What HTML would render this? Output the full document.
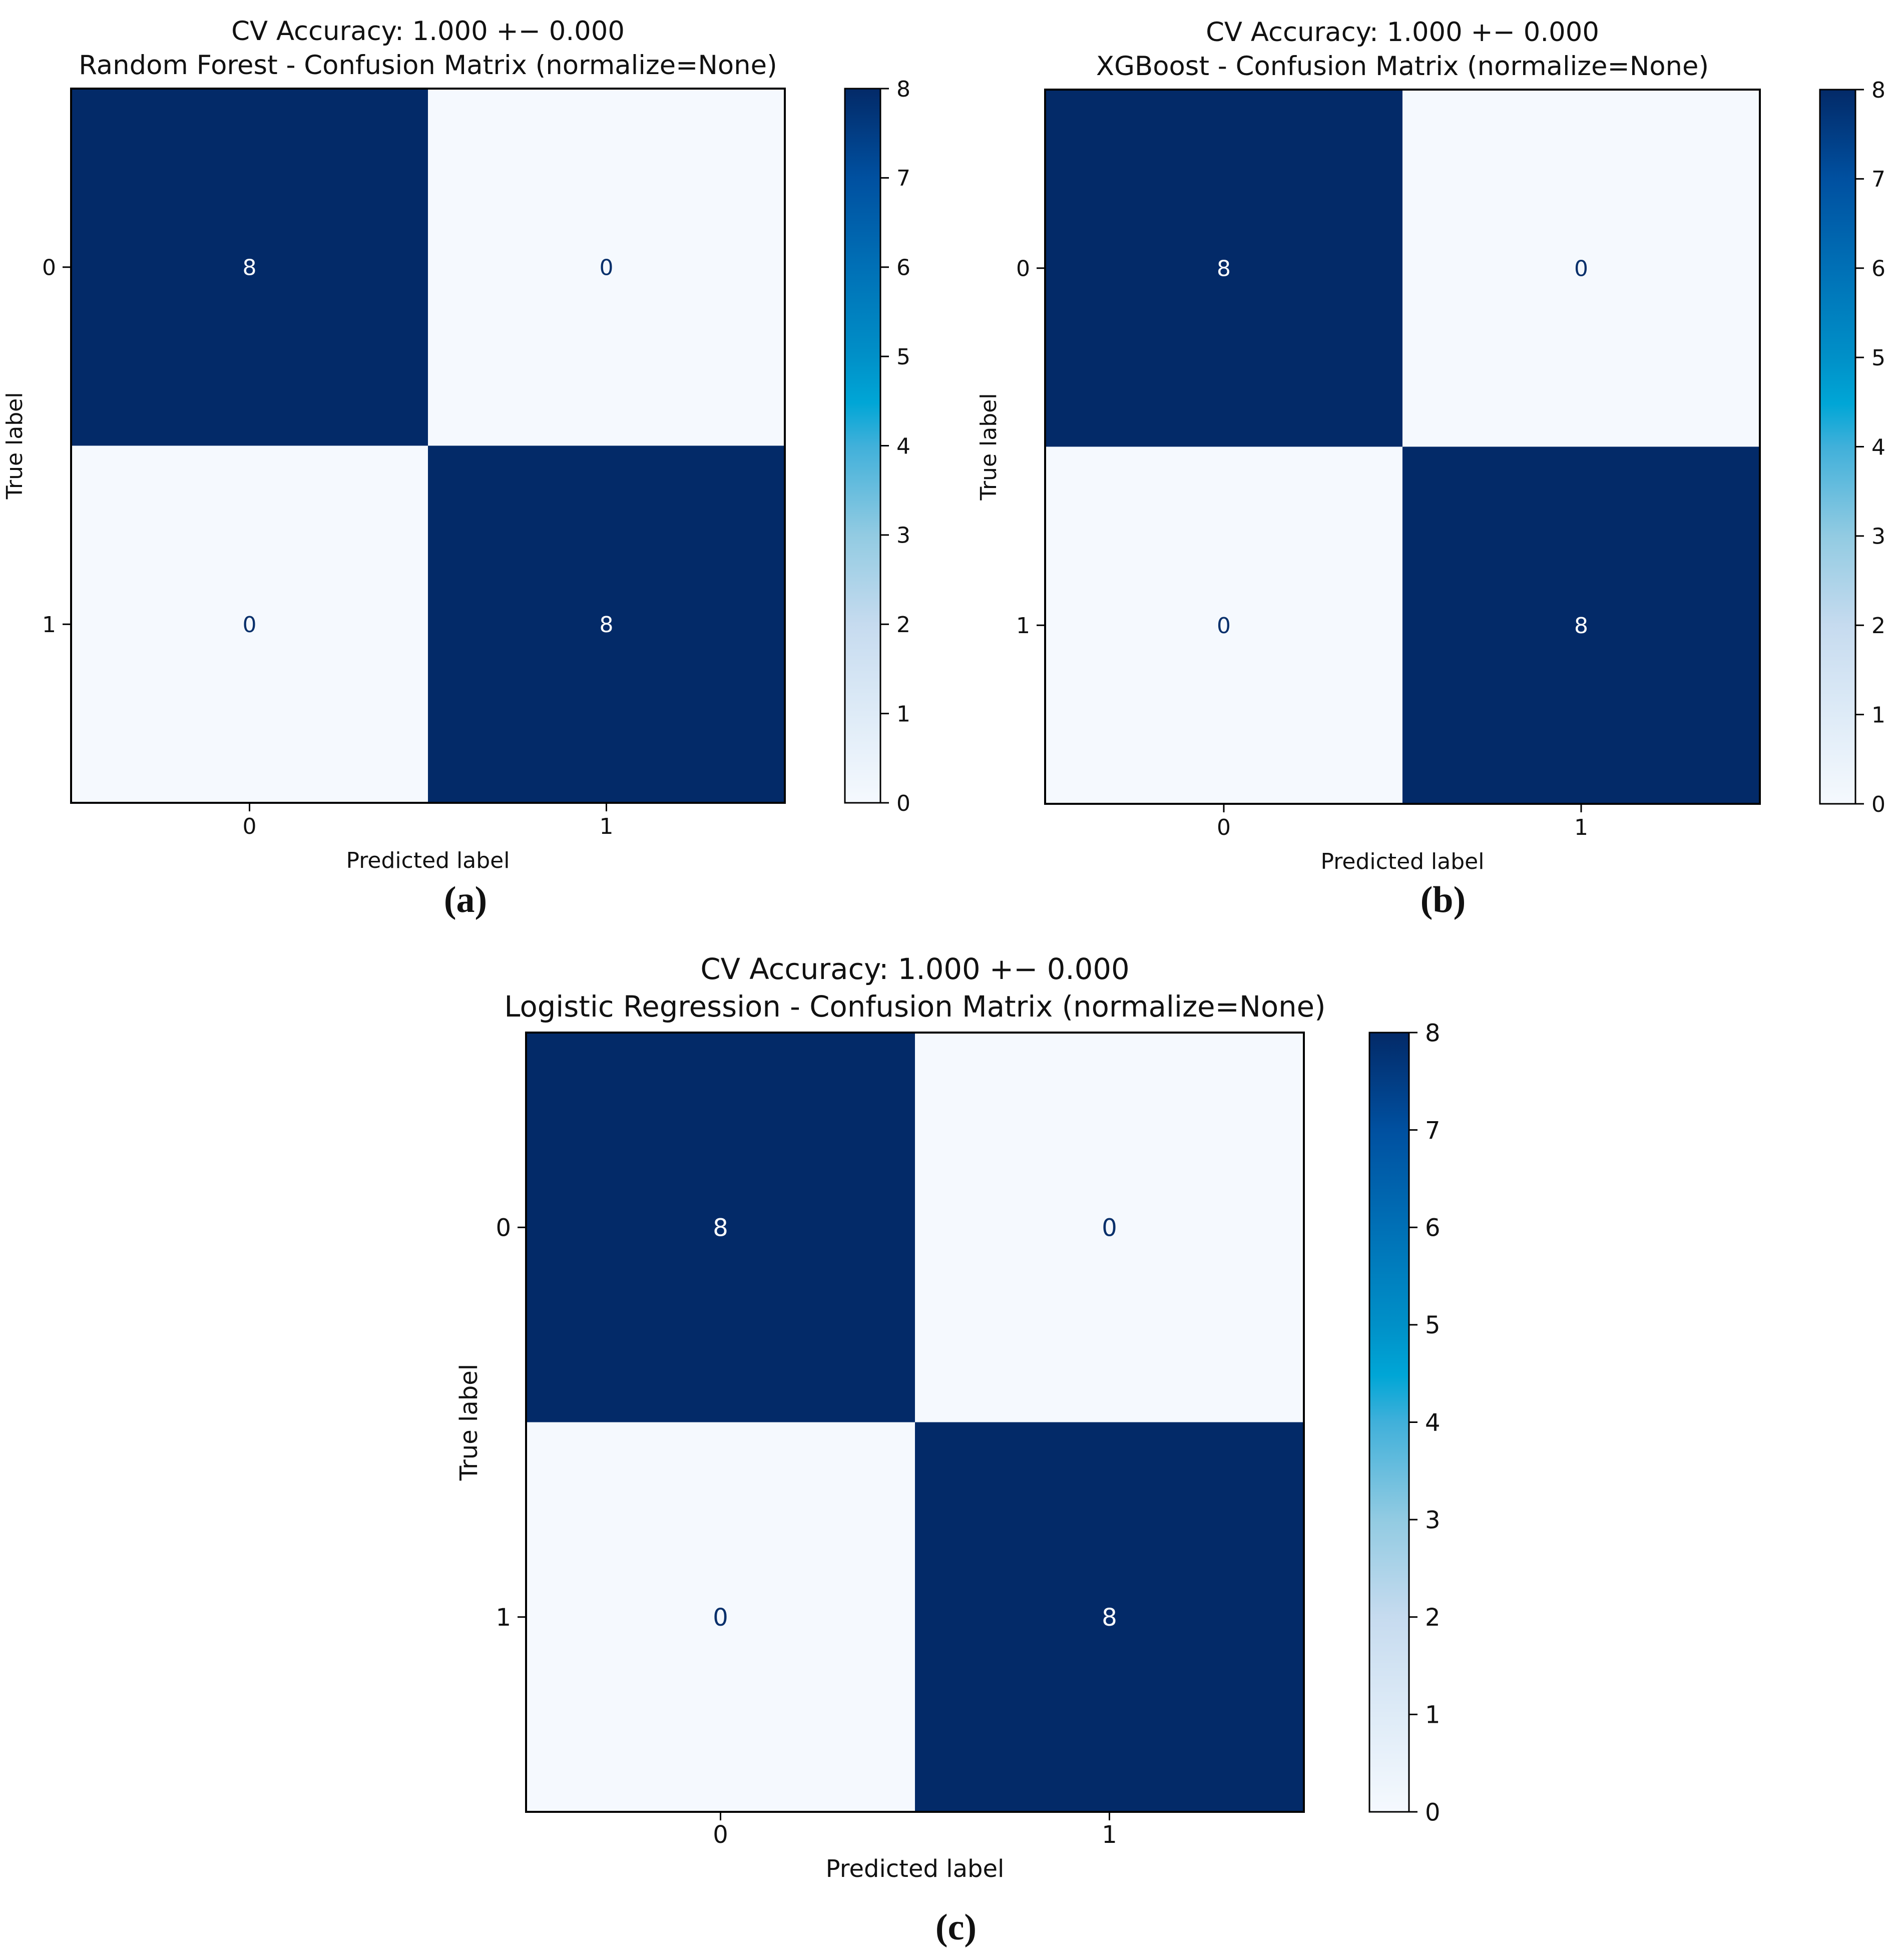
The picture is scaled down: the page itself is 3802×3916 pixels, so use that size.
<!DOCTYPE html>
<html><head><meta charset="utf-8"><style>
html,body{margin:0;padding:0;background:#fff;}
svg{display:block;}
text{font-family:"DejaVu Sans","Liberation Sans",sans-serif;}
.sub{font-family:"Liberation Serif",serif;}
</style></head><body>
<svg id="fig" width="3802" height="3916" viewBox="0 0 3802 3916" xmlns="http://www.w3.org/2000/svg">
<defs>
<linearGradient id="blues" x1="0" y1="1" x2="0" y2="0">
<stop offset="0" stop-color="#f5f9fe"/>
<stop offset="0.125" stop-color="#deebf7"/>
<stop offset="0.25" stop-color="#c6dbef"/>
<stop offset="0.375" stop-color="#92cbe2"/>
<stop offset="0.5" stop-color="#40b0da"/>
<stop offset="0.56" stop-color="#00a6d6"/>
<stop offset="0.625" stop-color="#0090c8"/>
<stop offset="0.75" stop-color="#0070b6"/>
<stop offset="0.875" stop-color="#0050a0"/>
<stop offset="1" stop-color="#032a68"/>
</linearGradient>
</defs>
</svg>
<script>
const categories = ['0','1'];
const rfMatrix = [[8,0],[0,8]];
const xgbMatrix = [[8,0],[0,8]];
const lrMatrix = [[8,0],[0,8]];
const cbarTicks = [0,1,2,3,4,5,6,7,8];
const titles1 = ['CV Accuracy: 1.000 +\u2212 0.000','CV Accuracy: 1.000 +\u2212 0.000','CV Accuracy: 1.000 +\u2212 0.000'];
const titles2 = ['Random Forest - Confusion Matrix (normalize=None)','XGBoost - Confusion Matrix (normalize=None)','Logistic Regression - Confusion Matrix (normalize=None)'];
const subLabels = ['(a)','(b)','(c)'];
const vmin = 0, vmax = 8;

const NS = 'http://www.w3.org/2000/svg';
const fig = document.getElementById('fig');
function mk(tag, attrs, parent){ const e=document.createElementNS(NS,tag); for(const k in attrs) e.setAttribute(k,attrs[k]); (parent||fig).appendChild(e); return e; }
function colorFor(v){ return v>=vmax/2 ? '#032a68' : '#f5f9fe'; }

const panels = [
 {m:rfMatrix, x0:142, y0:177, x1:1568, y1:1604, cb0:1688, cb1:1759, fs:44, t1y:80, t2y:148, sx:930, sy:1822},
 {m:xgbMatrix, x0:2088, y0:179, x1:3516, y1:1606, cb0:3636, cb1:3707, fs:44, t1y:82, t2y:150, sx:2883, sy:1822},
 {m:lrMatrix, x0:1051, y0:2063, x1:2605, y1:3620, cb0:2736, cb1:2815, fs:48, t1y:1956, t2y:2031, sx:1910, sy:3875}
];

panels.forEach((p,pi)=>{
  const g = mk('g',{fill:'#111'});
  
  
  const n = categories.length;
  const cw=(p.x1-p.x0)/n, ch=(p.y1-p.y0)/n;
  const xS = i => p.x0 + cw*(i+0.5);
  const yS = i => p.y0 + ch*(i+0.5);
  const cx = (p.x0+p.x1)/2;
  let t = mk('text',{x:cx,y:p.t1y,'text-anchor':'middle','font-size':p.fs*1.2},g); t.textContent=titles1[pi];
  
  
  t = mk('text',{x:cx,y:p.t2y,'text-anchor':'middle','font-size':p.fs*1.2},g); t.textContent=titles2[pi];
  
  
  for(let r=0;r<n;r++) for(let c=0;c<n;c++){
    const v=p.m[r][c];
    const rc = mk('rect',{x:p.x0+cw*c,y:p.y0+ch*r,width:cw,height:ch,fill:colorFor(v)},g);
    
    
    const tx = mk('text',{x:xS(c),y:yS(r)+p.fs*0.36,'text-anchor':'middle','font-size':p.fs,style:'fill:'+(v>=vmax/2?'#ffffff':'#08306b')},g);
    tx.textContent=String(v);
    
    
  }
  const fr = mk('rect',{x:p.x0,y:p.y0,width:p.x1-p.x0,height:p.y1-p.y0,fill:'none',stroke:'#000','stroke-width':4},g);
  
  
  categories.forEach((lab,i)=>{
    mk('line',{x1:xS(i),x2:xS(i),y1:p.y1,y2:p.y1+17,stroke:'#000','stroke-width':3},g);
    let tl = mk('text',{x:xS(i),y:p.y1+62,'text-anchor':'middle','font-size':p.fs},g); tl.textContent=lab;
    
    
    mk('line',{x1:p.x0-17,x2:p.x0,y1:yS(i),y2:yS(i),stroke:'#000','stroke-width':3},g);
    tl = mk('text',{x:p.x0-30,y:yS(i)+p.fs*0.36,'text-anchor':'end','font-size':p.fs},g); tl.textContent=lab;
    
    
  });
  let xl = mk('text',{x:cx,y:p.y1+130,'text-anchor':'middle','font-size':p.fs},g); xl.textContent='Predicted label';
  
  
  const ylx = p.x0-98, yly=(p.y0+p.y1)/2;
  let yl = mk('text',{x:ylx,y:yly,'text-anchor':'middle','font-size':p.fs,transform:'rotate(-90 '+ylx+' '+yly+')'},g); yl.textContent='True label';
  
  
  const cb = mk('rect',{x:p.cb0,y:p.y0,width:p.cb1-p.cb0,height:p.y1-p.y0,fill:'url(#blues)',stroke:'#000','stroke-width':3},g);
  
  
  const cbY = v => p.y1 - (v-vmin)/(vmax-vmin)*(p.y1-p.y0);
  cbarTicks.forEach(v=>{
    mk('line',{x1:p.cb1,x2:p.cb1+17,y1:cbY(v),y2:cbY(v),stroke:'#000','stroke-width':3},g);
    const tl = mk('text',{x:p.cb1+32,y:cbY(v)+p.fs*0.36,'font-size':p.fs},g); tl.textContent=String(v);
    
    
  });
  const sl = mk('text',{x:p.sx,y:p.sy,'text-anchor':'middle','font-size':74,'font-weight':'bold',class:'sub'},g);
  sl.textContent=subLabels[pi];
  
  
});
</script>
</body></html>
